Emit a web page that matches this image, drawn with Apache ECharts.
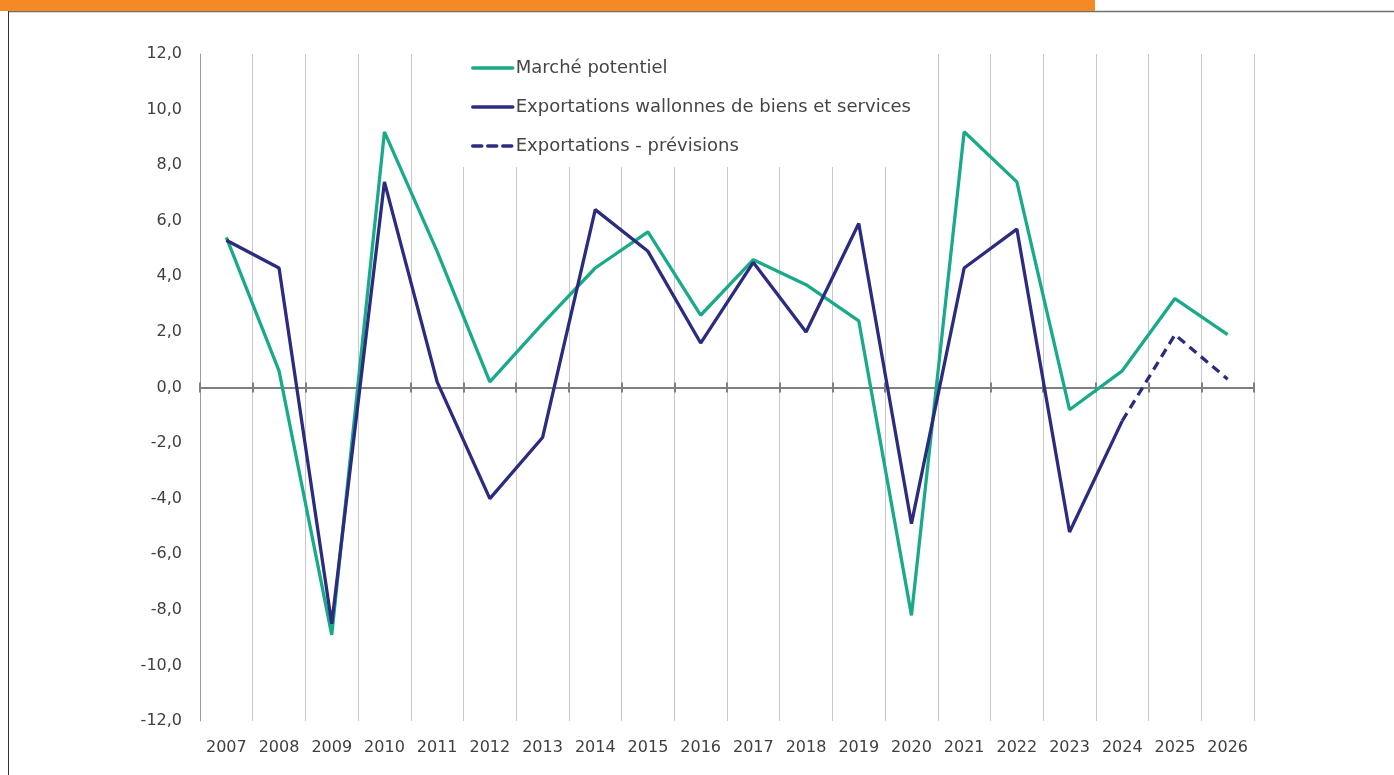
<!DOCTYPE html>
<html><head><meta charset="utf-8">
<script src="https://cdn.jsdelivr.net/npm/echarts@6/dist/echarts.min.js"></script>
<style>html,body{margin:0;padding:0;background:#fff}#c{width:1394px;height:775px}</style>
</head><body><div id="c"></div>
<script>
const years = ['2007','2008','2009','2010','2011','2012','2013','2014','2015','2016','2017','2018','2019','2020','2021','2022','2023','2024','2025','2026'];
const marchePotentiel = [5.4,0.6,-8.9,9.2,4.9,0.2,2.3,4.3,5.6,2.6,4.6,3.7,2.4,-8.2,9.2,7.4,-0.8,0.6,3.2,1.9];
const exportations = [5.3,4.3,-8.5,7.4,0.2,-4.0,-1.8,6.4,4.9,1.6,4.5,2.0,5.9,-4.9,4.3,5.7,-5.2,-1.2,null,null];
const previsions = [null,null,null,null,null,null,null,null,null,null,null,null,null,null,null,null,null,-1.2,1.9,0.3];
const names = ['Marché potentiel','Exportations wallonnes de biens et services','Exportations - prévisions'];

const FONT = 'DejaVu Sans';
const chart = echarts.init(document.getElementById('c'), null, {renderer:'canvas'});
chart.setOption({
  backgroundColor:'#fff',
  animation:false,
  textStyle:{fontFamily:FONT,color:'#404040'},
  graphic:[
    {type:'rect',shape:{x:0,y:0,width:1095,height:11},style:{fill:'#F58A24'},z:10},
    {type:'line',shape:{x1:8,y1:11.5,x2:1394,y2:11.5},style:{stroke:'#6e6e6e',lineWidth:1.5},z:9},
    {type:'line',shape:{x1:8.5,y1:11,x2:8.5,y2:775},style:{stroke:'#333',lineWidth:1},z:9}
  ],
  grid:{left:200,right:140,top:54,bottom:54},
  legend:{
    orient:'vertical',left:457,top:54,
    padding:[5,14,12,14],itemGap:21,
    itemWidth:40,itemHeight:20,
    backgroundColor:'#fff',
    itemStyle:{opacity:0},
    lineStyle:{width:3.5,cap:'round'},
    textStyle:{fontFamily:FONT,fontSize:18,color:'#454545',padding:[0,0,0,-2]},
    data:names,z:5
  },
  xAxis:[
    {type:'category',data:years,position:'bottom',
     axisLine:{show:false,onZero:false},axisTick:{show:false},
     axisLabel:{interval:0,fontSize:16,color:'#404040',margin:19,fontFamily:FONT},
     splitLine:{show:true,interval:0,lineStyle:{color:'#c8c8c8',width:1}}},
    {type:'category',data:years,gridIndex:0,position:'bottom',
     axisLine:{show:true,onZero:true,onZeroAxisIndex:0,lineStyle:{color:'#808080',width:2}},
     axisTick:{show:true,interval:0,length:5,lineStyle:{color:'#808080',width:2}},
     axisLabel:{show:false},splitLine:{show:false}},
    {type:'category',data:years,gridIndex:0,position:'bottom',
     axisLine:{show:false,onZero:true,onZeroAxisIndex:0},
     axisTick:{show:true,inside:true,interval:0,length:5,lineStyle:{color:'#808080',width:2}},
     axisLabel:{show:false},splitLine:{show:false}}
  ],
  yAxis:{type:'value',min:-12,max:12,interval:2,
    axisLine:{show:true,onZero:false,lineStyle:{color:'#9a9a9a',width:1}},
    axisTick:{show:false},
    splitLine:{show:false},
    axisLabel:{fontSize:16,color:'#404040',margin:18,fontFamily:FONT,
      formatter:v=>v.toFixed(1).replace('.',',')}},
  series:[
    {name:names[0],type:'line',data:marchePotentiel,symbol:'none',
     lineStyle:{color:'#1AAA8A',width:3.3},itemStyle:{color:'#1AAA8A'},z:3},
    {name:names[1],type:'line',data:exportations,symbol:'none',
     lineStyle:{color:'#2B2C7F',width:3.3},itemStyle:{color:'#2B2C7F'},z:4},
    {name:names[2],type:'line',data:previsions,symbol:'none',
     lineStyle:{color:'#2B2C7F',width:3.3,type:[9,6]},itemStyle:{color:'#2B2C7F'},z:4}
  ]
});
</script></body></html>
